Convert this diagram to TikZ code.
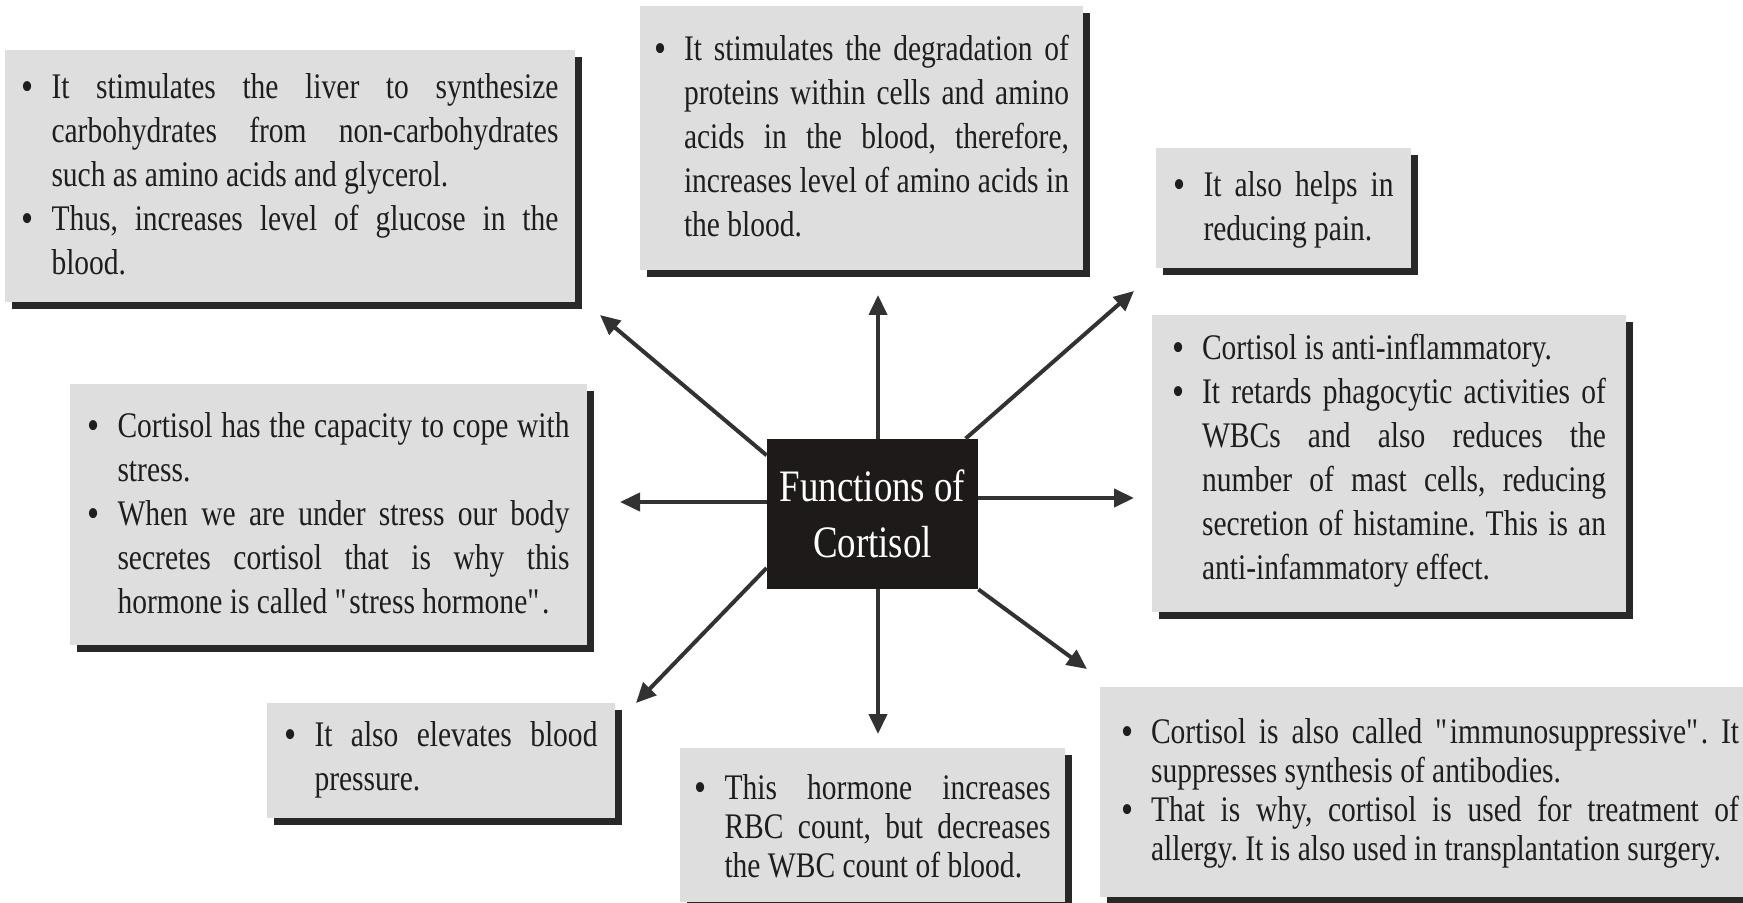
\documentclass[tikz,border=0pt]{standalone}
\usepackage{fontspec}
\setmainfont{Liberation Serif}[FakeStretch=0.82]
\usetikzlibrary{arrows.meta,shadows}

\definecolor{boxgray}{RGB}{222,222,222}
\definecolor{shadegray}{RGB}{40,40,40}
\definecolor{inkgray}{RGB}{30,30,30}
\definecolor{arrowgray}{RGB}{50,50,50}
\definecolor{coregray}{RGB}{30,26,26}

\frenchspacing
\newcommand{\bul}{\par\noindent\hangindent=15pt\hangafter=1%
  \makebox[15pt][l]{\raisebox{-1pt}{\fontsize{21}{21}\selectfont\textbullet}}}
\newcommand{\boxend}[1]{\par\vspace{#1}}

\tikzset{
  infobox/.style={fill=boxgray, inner sep=0pt, align=justify, text=inkgray,
    font=\fontsize{18}{22}\selectfont,
    drop shadow={shadow xshift=3.5pt, shadow yshift=-3.5pt, fill=shadegray, opacity=1}},
  core/.style={fill=coregray, text=white, inner sep=0pt, align=center,
    minimum width=105.5pt, minimum height=75pt, font=\fontsize{22.5}{28}\selectfont},
  arr/.style={line width=2pt, draw=arrowgray, -{Triangle[length=10pt,width=9pt]}}
}

\begin{document}
\begin{tikzpicture}[x=0.5pt,y=-0.5pt]
    \useasboundingbox (0,0) rectangle (1743,903);
    \clip (0,0) rectangle (1743,903);
    % centre
    \draw (872.5,514) node[core] (ctr) {Functions of\\Cortisol};
    % the boxes round it
    \draw (290,176) node[infobox, text width=268.5pt, minimum width=285pt, minimum height=126pt] (liver)
      {\bul It stimulates the liver to synthesize\linebreak carbohydrates from non-carbohydrates\linebreak such as amino acids and glycerol.%
       \bul Thus, increases level of glucose in the\linebreak blood.\boxend{11pt}};
    \draw (861.5,138) node[infobox, text width=207.5pt, minimum width=221.5pt, minimum height=132pt] (prot)
      {\bul It stimulates the degradation of\linebreak proteins within cells and amino\linebreak acids in the blood, therefore,\linebreak increases level of amino acids in\linebreak the blood.\boxend{11pt}};
    \draw (1283.5,208) node[infobox, text width=110pt, minimum width=127.5pt, minimum height=60pt] (pain)
      {\bul It also helps in\linebreak reducing pain.\boxend{8pt}};
    \draw (1389,463.5) node[infobox, text width=217pt, minimum width=237pt, minimum height=148.5pt] (inflam)
      {\bul Cortisol is anti-inflammatory.%
       \bul It retards phagocytic activities of\linebreak WBCs and also reduces the\linebreak number of mast cells, reducing\linebreak secretion of histamine. This is an\linebreak anti-infammatory effect.\boxend{12pt}};
    \draw (328.5,514.5) node[infobox, text width=241pt, minimum width=258.5pt, minimum height=130.5pt] (stress)
      {\bul Cortisol has the capacity to cope with\linebreak stress.%
       \bul When we are under stress our body\linebreak secretes cortisol that is why this\linebreak hormone is called \textquotedbl stress hormone\textquotedbl.\boxend{11pt}};
    \draw (441,760.5) node[infobox, text width=156.5pt, minimum width=174pt, minimum height=51.5pt] (press)
      {\bul It also elevates blood\linebreak pressure.\boxend{10pt}};
    \draw (872.5,825) node[infobox, font=\fontsize{18}{19.5}\selectfont, text width=178pt, minimum width=192.5pt, minimum height=77pt] (rbc)
      {\bul This hormone increases\linebreak RBC count, but decreases\linebreak the WBC count of blood.\boxend{5.5pt}};
    \draw (1430,792) node[infobox, font=\fontsize{18}{19.5}\selectfont, text width=309pt, minimum width=330pt, minimum height=105pt] (immune)
      {\bul Cortisol is also called \textquotedbl immunosuppressive\textquotedbl. It\linebreak suppresses synthesis of antibodies.%
       \bul That is why, cortisol is used for treatment of\linebreak allergy. It is also used in transplantation surgery.\boxend{5.5pt}};
    % arrow tips
    \coordinate (tU)  at (878,295);
    \coordinate (tD)  at (878,734);
    \coordinate (tL)  at (620,502);
    \coordinate (tR)  at (1134,498);
    \coordinate (tUL) at (600,315);
    \coordinate (tUR) at (1134,291);
    \coordinate (tDL) at (636,703);
    \coordinate (tDR) at (1087,669);
    \draw[arr] (ctr.north -| tU) -- (tU);
    \draw[arr] (ctr.south -| tD) -- (tD);
    \draw[arr] (ctr.west |- tL) -- (tL);
    \draw[arr] (ctr.east |- tR) -- (tR);
    \draw[arr] (ctr.151) -- (tUL);
    \draw[arr] (ctr.39) -- (tUR);
    \draw[arr] (ctr.207) -- (tDL);
    \draw[arr] (ctr.south east) -- (tDR);
\end{tikzpicture}
\end{document}
